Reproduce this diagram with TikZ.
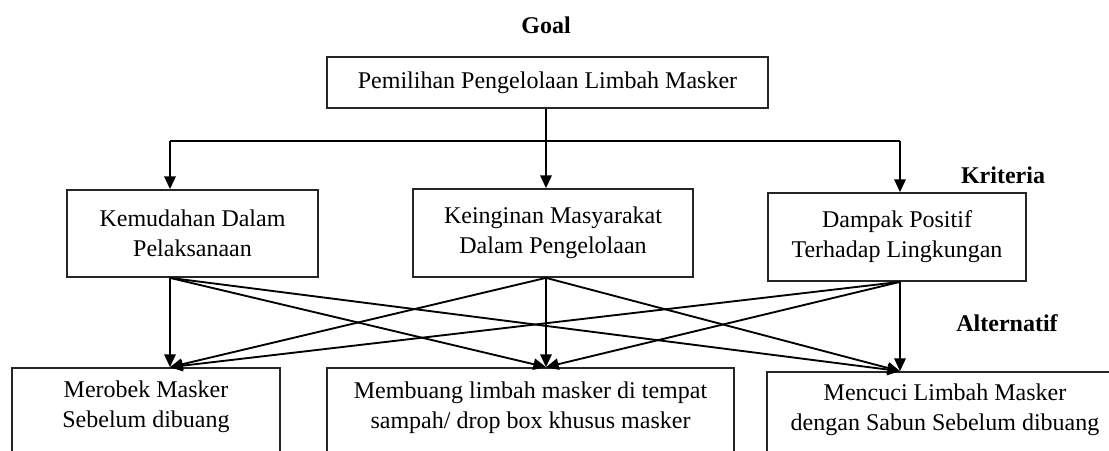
\documentclass[tikz,border=0pt]{standalone}
\usepackage{fontspec}
\setmainfont{Liberation Serif}
\usetikzlibrary{arrows.meta}
\tikzset{
  box/.style={draw=black!85, line width=1.3pt, rectangle, inner sep=0pt, align=center},
  lbl/.style={font=\fontsize{18}{22.5}\selectfont\bfseries, inner sep=0pt},
  txt/.style={align=center, inner sep=0pt},
  conn/.style={line width=1.4pt, black},
  arr/.style={conn, -{Triangle[length=9.5pt, width=8.5pt]}}
}
\begin{document}
\begin{tikzpicture}[x=0.75pt, y=-0.75pt, font=\fontsize{18}{22.5}\selectfont]
\useasboundingbox (0,0) rectangle (1109,450);
\clip (0,0) rectangle (1109,450);
% labels
\node[lbl] (goal) at (546,25) {Goal};
\node[lbl] (krit) at (1003,175) {Kriteria};
\node[lbl] (alt) at (1007,323) {Alternatif};
% goal box
\node[box, minimum width=330.75pt, minimum height=38.25pt] (T) at (547.5,82.5) {Pemilihan Pengelolaan Limbah Masker};
% criteria boxes
\node[box, minimum width=188.25pt, minimum height=65.25pt] (K1) at (192.5,233.5) {Kemudahan Dalam\\Pelaksanaan};
\node[box, minimum width=210pt, minimum height=66pt] (K2) at (553,233) {Keinginan Masyarakat\\Dalam Pengelolaan};
\node[box, minimum width=193.5pt, minimum height=66pt] (K3) at (897,237) {Dampak Positif\\Terhadap Lingkungan};
% alternative boxes (cut by the lower edge)
\node[box, minimum width=201pt, minimum height=84pt] (A1) at (146,424) {};
\node[box, minimum width=305.25pt, minimum height=84pt] (A2) at (530.5,424) {};
\node[box, minimum width=268.5pt, minimum height=84pt] (A3) at (946,428) {};
\node[txt] (A1t) at (146,407) {Merobek Masker\\Sebelum dibuang};
\node[txt] (A2t) at (530.5,407.5) {Membuang limbah masker di tempat\\sampah/ drop box khusus masker};
\node[txt] (A3t) at (945,410) {Mencuci Limbah Masker\\dengan Sabun Sebelum dibuang};
% goal -> criteria
\coordinate (hl) at (170,141);
\coordinate (hm) at (546,141);
\coordinate (hr) at (900,141);
\draw[conn] (hl) -- (hr);
\draw[arr] (hm |- T.south) -- (hm |- K2.north);
\draw[arr] (hl) -- (hl |- K1.north);
\draw[arr] (hr) -- (hr |- K3.north);
% criteria -> alternatives
\coordinate (s1) at (hl |- K1.south);
\coordinate (s2) at (hm |- K2.south);
\coordinate (s3) at (hr |- K3.south);
\coordinate (t1) at (hl |- A1.north);
\coordinate (t2) at (hm |- A2.north);
\coordinate (t3) at (hr |- A3.north);
\foreach \s in {s1,s2,s3}{
  \foreach \t in {t1,t2,t3}{
    \draw[arr] (\s) -- (\t);
  }
}
\end{tikzpicture}
\end{document}
